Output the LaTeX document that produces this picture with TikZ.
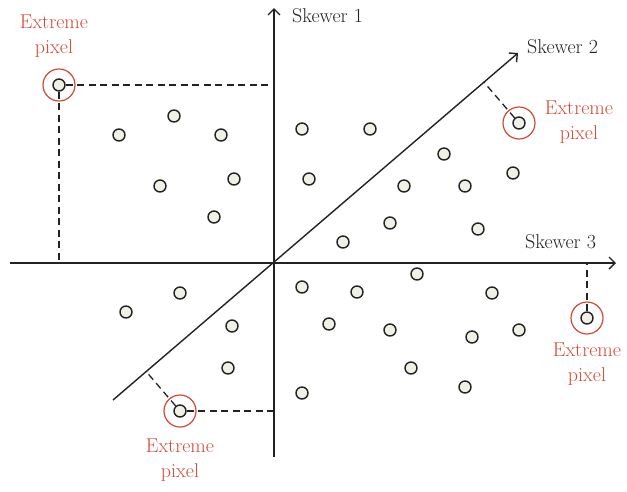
\documentclass[tikz,border=0pt]{standalone}
\usepackage{xcolor}
\usepackage{tikz}
\usetikzlibrary{arrows.meta, positioning, calc}

\definecolor{ringred}{HTML}{D24A36}
\definecolor{pixfill}{HTML}{F0F0E6}
\definecolor{axisgray}{HTML}{222222}

\begin{document}
\begin{tikzpicture}[
    x=1pt, y=-1pt,
    every node/.style={font=\fontsize{20}{25}\selectfont},
    pix/.style={circle, draw=axisgray, fill=pixfill, line width=1.4pt, minimum size=12pt, inner sep=0pt},
    ring/.style={circle, draw=ringred, line width=1.2pt, minimum size=32pt, inner sep=0pt},
    skewer/.style={axisgray, line width=1.4pt, -{Straight Barb[length=6pt, width=12pt, line width=1.4pt]}},
    proj/.style={axisgray, line width=1.3pt, dash pattern=on 7pt off 4.5pt},
    lbl/.style={inner sep=0pt, text=ringred, align=center},
    axlbl/.style={inner sep=0pt, text=axisgray, anchor=base west}
]
\useasboundingbox (0,0) rectangle (627,491);

% skewer ends
\coordinate (s1a) at (274,457);
\coordinate (s1b) at (274,8);
\coordinate (s2a) at (113,400);
\coordinate (s2b) at (518,53);
\coordinate (s3a) at (10,263);
\coordinate (s3b) at (616,263);

\draw[skewer] (s1a) -- (s1b);
\draw[skewer] (s2a) -- (s2b);
\draw[skewer] (s3a) -- (s3b);

\node[axlbl] (k1) at (292,22) {Skewer 1};
\node[axlbl] (k2) at (527,53) {Skewer 2};
\node[axlbl] (k3) at (525,248) {Skewer 3};

% ordinary pixels
\foreach \x/\y [count=\n] in {119/135, 174/116, 221/135, 160/186, 234/179, 214/217,
    302/129, 370/129, 444/154, 309/179, 404/186, 465/186, 513/173, 390/223, 478/229, 343/242,
    180/293, 126/312, 232/326, 228/368,
    302/287, 357/292, 417/274, 492/293, 329/324, 390/330, 472/337, 519/330, 411/368, 465/387, 302/393}
    \node[pix] (p\n) at (\x,\y) {};

% extreme pixels
\node[pix] (e1) at (59,85) {};
\node[pix] (e2) at (519,123) {};
\node[pix] (e3) at (587,318) {};
\node[pix] (e4) at (180,411) {};

\foreach \i in {1,...,4}
    \node[ring] (r\i) at (e\i) {};

% projections onto the skewers
\coordinate (f1a) at (s1a |- e1);
\coordinate (f1b) at (e1 |- s3a);
\coordinate (f2) at ($(s2a)!(e2)!(s2b)$);
\coordinate (f3) at (e3 |- s3a);
\coordinate (f4a) at (s1a |- e4);
\coordinate (f4b) at ($(s2a)!(e4)!(s2b)$);

\draw[proj] (e1) -- (f1a);
\draw[proj] (e1) -- (f1b);
\draw[proj] (e2) -- (f2);
\draw[proj] (e3) -- (f3);
\draw[proj] (e4) -- (f4a);
\draw[proj] (e4) -- (f4b);

\node[lbl] (l1) at (54,36) {Extreme\\pixel};
\node[lbl] (l2) at (579,122) {Extreme\\pixel};
\node[lbl] (l3) at (587,364) {Extreme\\pixel};
\node[lbl] (l4) at (180,460) {Extreme\\pixel};

\end{tikzpicture}
\end{document}
